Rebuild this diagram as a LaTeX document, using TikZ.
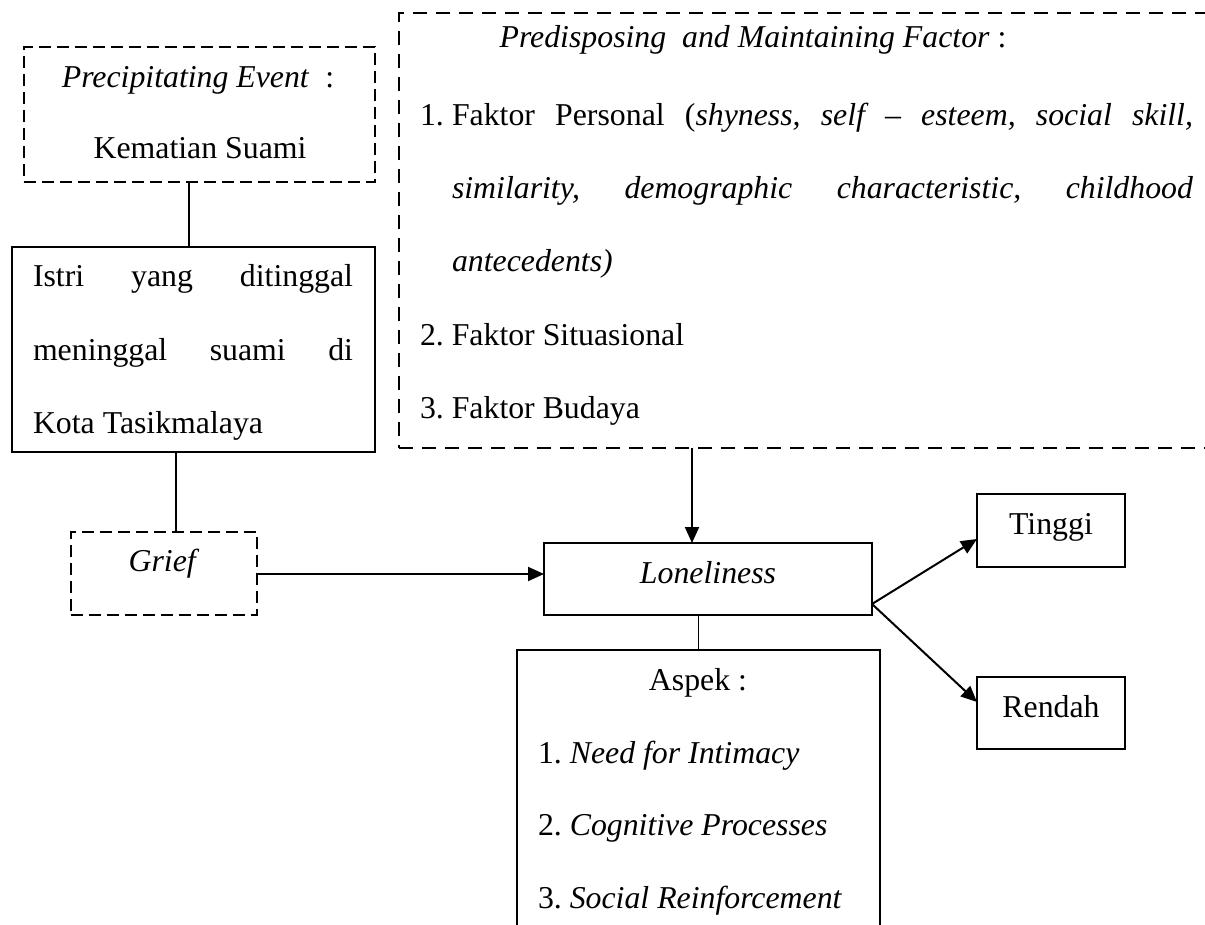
\documentclass[tikz,border=0pt]{standalone}
\usepackage{fontspec}
\setmainfont{Liberation Serif}
\usetikzlibrary{arrows.meta}
\frenchspacing
\begin{document}
\begin{tikzpicture}[x=1pt,y=-1pt,
  every node/.style={inner sep=0pt, outer sep=0pt, font=\fontsize{31.8}{38}\selectfont},
  sbox/.style={draw, line width=1.5pt},
  dbox/.style={draw, line width=1.8pt, dash pattern=on 12pt off 6pt},
  dboxb/.style={draw, line width=1.8pt, dash pattern=on 14pt off 9pt},
  lbl/.style={anchor=base},
  lblw/.style={anchor=base west},
  conn/.style={line width=1.6pt},
  arr/.style={line width=2pt, -{Triangle[length=16pt,width=14pt]}},
]
\useasboundingbox (0,0) rectangle (1205,925);

% boxes
\node[dbox, minimum width=351pt, minimum height=135pt, anchor=north west] (pbox) at (24,47) {};
\node[sbox, minimum width=363pt, minimum height=205pt, anchor=north west] (ibox) at (12,247) {};
\node[dbox, minimum width=186pt, minimum height=83pt, anchor=north west] (gbox) at (71,532) {};
\node[sbox, minimum width=328pt, minimum height=72pt, anchor=north west] (lbox) at (544,543) {};
\node[sbox, minimum width=148pt, minimum height=73pt, anchor=north west] (tbox) at (977,494) {};
\node[sbox, minimum width=148pt, minimum height=72pt, anchor=north west] (rbox) at (977,677) {};
\begin{scope}
  \clip (0,0) rectangle (1205,925);
  \node[dboxb, minimum width=820pt, minimum height=435pt, anchor=north west] (pred) at (399,13) {};
  \node[sbox, minimum width=363pt, minimum height=300pt, anchor=north west] (abox) at (517,650) {};
\end{scope}

% texts
\node[lbl] (pt1) at (198,88) {\textit{Precipitating Event}\ \ :};
\node[lbl] (pt2) at (200,159) {Kematian Suami};
\node[lblw] (it1) at (33,287) {\makebox[320pt][s]{Istri yang ditinggal}};
\node[lblw] (it2) at (33,360) {\makebox[320pt][s]{meninggal suami di}};
\node[lblw] (it3) at (33,433) {Kota Tasikmalaya};
\node[lbl] (gt) at (164,571) {\textit{Grief}};
\node[lbl] (prt) at (753,48) {\textit{Predisposing\ \ and Maintaining Factor}\ :};
\node[lblw] (pr1n) at (420,126) {1.};
\node[lblw] (pr1) at (452,126) {\makebox[741pt][s]{Faktor Personal (\textit{shyness, self – esteem, social skill,}}};
\node[lblw] (pr2) at (452,199) {\makebox[741pt][s]{\textit{similarity, demographic characteristic, childhood}}};
\node[lblw] (pr3) at (452,272) {\textit{antecedents)}};
\node[lblw] (pr4) at (420,345) {2. Faktor Situasional};
\node[lblw] (pr5) at (420,418) {3. Faktor Budaya};
\node[lbl] (lt) at (708,583) {\textit{Loneliness}};
\node[lbl] (tt) at (1051,534) {Tinggi};
\node[lbl] (rt) at (1051,717) {Rendah};
\node[lbl] (at) at (698,690) {Aspek :};
\node[lblw] (a1) at (538,763) {1. \textit{Need for Intimacy}};
\node[lblw] (a2) at (538,835) {2. \textit{Cognitive Processes}};
\node[lblw] (a3) at (538,908) {3. \textit{Social Reinforcement}};

% connectors
\coordinate (c1) at (189,0);
\coordinate (c2) at (176,0);
\coordinate (c3) at (0,574);
\coordinate (c4) at (692,0);
\coordinate (c5) at (0,604);
\coordinate (t1) at (0,539);
\coordinate (r1) at (0,702);
\draw[conn] (pbox.south -| c1) -- (ibox.north -| c1);
\draw[conn] (ibox.south -| c2) -- (gbox.north -| c2);
\draw[arr] (gbox.east |- c3) -- (lbox.west |- c3);
\draw[arr] (pred.south -| c4) -- (lbox.north -| c4);
\draw[conn] (lbox.south -| abox.north) -- (abox.north);
\draw[arr] (lbox.east |- c5) -- (tbox.west |- t1);
\draw[arr] (lbox.east |- c5) -- (rbox.west |- r1);
\end{tikzpicture}
\end{document}
